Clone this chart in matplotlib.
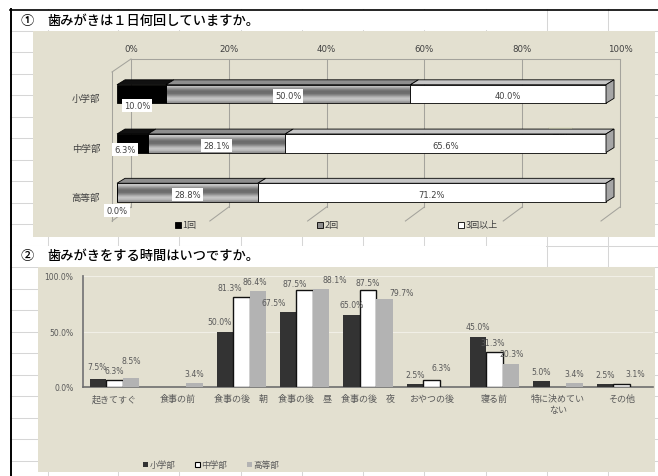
import numpy as np
import matplotlib

matplotlib.use("Agg")
import matplotlib.pyplot as plt
from matplotlib.patches import Polygon, Rectangle

plt.rcParams["font.family"] = ["Noto Sans CJK JP", "DejaVu Sans"]

# --- chart 1: brushing count per day (100% stacked) ---
grades = ["小学部", "中学部", "高等部"]
freq_names = ["1回", "2回", "3回以上"]
freq_once = [10.0, 6.3, 0.0]
freq_twice = [50.0, 28.1, 28.8]
freq_three = [40.0, 65.6, 71.2]
pct_ticks = [0, 20, 40, 60, 80, 100]

# --- chart 2: when do you brush ---
times = ["起きてすぐ", "食事の前", "食事の後　朝", "食事の後　昼", "食事の後　夜",
         "おやつの後", "寝る前", "特に決めてい\nない", "その他"]
elem = [7.5, 0.0, 50.0, 67.5, 65.0, 2.5, 45.0, 5.0, 2.5]
junior = [6.3, 0.0, 81.3, 87.5, 87.5, 6.3, 31.3, 0.0, 3.1]
senior = [8.5, 3.4, 86.4, 88.1, 79.7, 0.0, 20.3, 3.4, 0.0]
y2_ticks = [0, 50, 100]

W, H = 658, 477
BEIGE = "#e3e0d0"
GRID = "#d6d6d6"
TXT = "#404040"
TXT2 = "#595959"
NUM = "DejaVu Sans"

fig = plt.figure(figsize=(W / 100, H / 100), dpi=100)
sheet = fig.add_axes([0, 0, 1, 1])
sheet.set_xlim(0, W)
sheet.set_ylim(H, 0)
sheet.axis("off")


def px_axes(left, top, right, bottom):
    return fig.add_axes([left / W, 1 - bottom / H, (right - left) / W, (bottom - top) / H])


# spreadsheet grid
for y in 10 + 21.52 * np.arange(1, 23):
    sheet.plot([10, W], [y, y], color=GRID, lw=0.75, zorder=1)
for x in [48] + list(118 + 61.25 * np.arange(10)):
    sheet.plot([x, x], [10, H], color=GRID, lw=0.75, zorder=1)
sheet.add_patch(Rectangle((11, 11.2), 535, 20, fc="white", ec="none", zorder=2))
sheet.add_patch(Rectangle((11, 247.4), 535, 20.2, fc="white", ec="none", zorder=2))
sheet.add_patch(Rectangle((33, 32), 622, 206, fc=BEIGE, ec="none", zorder=3))
sheet.add_patch(Rectangle((38, 268), 617, 205, fc=BEIGE, ec="none", zorder=3))
sheet.plot([10, W], [10.5, 10.5], color="black", lw=1.2, zorder=4)
sheet.plot([10.8, 10.8], [10, H], color="black", lw=1.4, zorder=4)

for ty, title in [(20.5, "歯みがきは１日何回していますか。"), (256, "歯みがきをする時間はいつですか。")]:
    sheet.text(47, ty, title, fontsize=9.5, fontweight="medium", va="center", zorder=5)
sheet.text(21, 20.5, "①", fontsize=9.5, fontweight="medium", va="center", zorder=5)
sheet.text(21, 256, "②", fontsize=9.5, fontweight="medium", va="center", zorder=5)

# ---------------- chart 1 ----------------
SX, SY = 4.89, 49.25          # px per percent / px per category
X0, Y0 = 117, 95              # pixel of (0 %, first bar centre)
ax1 = px_axes(60, 36, 645, 236)
ax1.axis("off")

WALL_FRONT, WALL_BACK = -1.02, 2.86
TOP_BACK, TOP_FRONT = -0.711, -0.447
BOT_BACK, BOT_FRONT = 2.294, 2.579
WALLC = "#a4a39c"
for p in pct_ticks:
    xb, xf = WALL_BACK + p, WALL_FRONT + p
    ax1.plot([xb, xb], [TOP_BACK, BOT_BACK], color=WALLC, lw=0.75, zorder=1)
    ax1.plot([xb, xf], [BOT_BACK, BOT_FRONT], color=WALLC, lw=0.75, zorder=1)
    ax1.text(xb, -0.93, f"{p}%", fontsize=6.2, color=TXT, family=NUM, ha="center", va="center")
ax1.plot([WALL_BACK, WALL_BACK + 100], [TOP_BACK, TOP_BACK], color=WALLC, lw=0.75, zorder=1)
ax1.plot([WALL_FRONT, WALL_FRONT], [TOP_FRONT, BOT_FRONT], color=WALLC, lw=0.75, zorder=1)
ax1.plot([WALL_FRONT, WALL_BACK], [TOP_FRONT, TOP_BACK], color=WALLC, lw=0.75, zorder=1)

ys = np.arange(len(grades))
h = 0.376
BAR_DX, BAR_DY = 1.64, -0.10
grad = np.array([0.80, 0.74, 0.6, 0.47, 0.42, 0.44, 0.55, 0.7, 0.78, 0.72, 0.58])[:, None]

series = [freq_once, freq_twice, freq_three]
fronts = ["black", "none", "white"]
tops = ["#111111", "#8e8e8e", "#c6c6c6"]
lefts = np.zeros(len(grades))
for k, vals in enumerate(series):
    vals = np.asarray(vals, dtype=float)
    ax1.barh(ys, vals, left=lefts, height=h, color=fronts[k], edgecolor="black",
             lw=0.6, zorder=3)
    for y, l, v in zip(ys, lefts, vals):
        if v <= 0:
            continue
        y0 = y - h / 2
        if k == 1:
            ax1.imshow(grad, cmap="gray", vmin=0, vmax=1, aspect="auto",
                       interpolation="bilinear", extent=(l, l + v, y + h / 2, y0), zorder=2.5)
        ax1.add_patch(Polygon([(l, y0), (l + BAR_DX, y0 + BAR_DY), (l + v + BAR_DX, y0 + BAR_DY),
                               (l + v, y0)], closed=True, fc=tops[k], ec="black", lw=0.6, zorder=3))
    lefts = lefts + vals

for y, t in zip(ys, lefts):
    y0 = y - h / 2
    ax1.add_patch(Polygon([(t, y0), (t + BAR_DX, y0 + BAR_DY), (t + BAR_DX, y0 + h + BAR_DY),
                           (t, y0 + h)], closed=True, fc="#a6a6a6", ec="black", lw=0.6, zorder=3))

ax1.set_xlim((60 - X0) / SX, (645 - X0) / SX)
ax1.set_ylim((236 - Y0) / SY, (36 - Y0) / SY)

box = dict(boxstyle="square,pad=0.25", fc="white", ec="none")
first_label_xy = [(4.1, 0.23), (1.6, 0.12), (0.0, 0.37)]
for y, v, (dx, dy) in zip(ys, freq_once, first_label_xy):
    ax1.text(dx, y + dy, f"{v:.1f}%", fontsize=6, color=TXT, family=NUM,
             ha="center", va="center", bbox=box, zorder=6)
starts = np.asarray(freq_once)
for vals in [freq_twice, freq_three]:
    for y, l, v in zip(ys, starts, vals):
        ax1.text(l + v / 2, y + 0.04, f"{v:.1f}%", fontsize=6, color=TXT, family=NUM,
                 ha="center", va="center", bbox=box, zorder=6)
    starts = starts + np.asarray(vals)

for y, g in zip(ys, grades):
    ax1.text(-3.4, y + 0.1, g, fontsize=6.8, color=TXT, ha="right", va="center")

# legend of chart 1
for x, fc, name in zip([175, 317, 458], ["black", "#8e8e8e", "white"], freq_names):
    sheet.add_patch(Rectangle((x, 223), 5.5, 5.5, fc=fc, ec="black", lw=0.6, zorder=6))
    sheet.text(x + 7.5, 226, name, fontsize=6.5, color=TXT, va="center", zorder=6)

# tooltip
sheet.text(560, 135, "背壁", fontsize=7, color="#707060", ha="center", va="center", zorder=8,
           bbox=dict(boxstyle="square,pad=0.25", fc="#ffffe1", ec="#d8d8c0", lw=0.5))

# ---------------- chart 2 ----------------
ax2 = px_axes(83, 277, 653, 388)
ax2.set_facecolor("none")
x = np.arange(len(times))
bw = 0.26
colors2 = ["#333333", "white", "#b3b3b3"]
edges2 = ["none", "#111111", "none"]
data2 = [elem, junior, senior]
nudges = {(0, 0): (-1, 12), (0, 2): (-5, 9.5), (0, 3): (-15, 10), (0, 6): (0, 11),
          (1, 2): (-12, 9), (1, 3): (-10, 6), (1, 4): (0, 7), (1, 5): (10, 13),
          (1, 6): (-2, 10), (1, 8): (14, 10), (2, 0): (0, 17), (2, 2): (-3, 10),
          (2, 3): (14, 10), (2, 4): (17, 6.5), (2, 6): (0, 10.5)}
for s, vals in enumerate(data2):
    bars = ax2.bar(x + (s - 1) * bw, vals, bw, color=colors2[s], edgecolor=edges2[s],
                   lw=1.0, zorder=3)
    for i, (b, v) in enumerate(zip(bars, vals)):
        if v <= 0:
            b.set_visible(False)
            continue
        dx, dy = nudges.get((s, i), (0, 10))
        ax2.annotate(f"{v:.1f}%", (b.get_x() + b.get_width() / 2, v),
                     xytext=(dx * 0.72, dy * 0.72), textcoords="offset points",
                     ha="center", va="center", fontsize=5.6, color=TXT2, family=NUM, zorder=5)

ax2.set_xlim(-0.5, len(times) - 0.5)
ax2.set_ylim(0, 100)
ax2.set_yticks(y2_ticks)
ax2.set_yticklabels([f"{t:.1f}%" for t in y2_ticks], family=NUM)
ax2.set_xticks(x)
ax2.set_xticklabels(times, linespacing=1.35)
ax2.yaxis.grid(True, color="#f1efe6", lw=0.8)
ax2.set_axisbelow(True)
ax2.tick_params(axis="y", length=0, pad=7, labelsize=5.5, labelcolor=TXT2)
ax2.tick_params(axis="x", length=0, pad=5, labelsize=6.5, labelcolor=TXT2)
for side in ["top", "right"]:
    ax2.spines[side].set_visible(False)
ax2.spines["left"].set_color("#7a7a7a")
ax2.spines["left"].set_linewidth(1.3)
ax2.spines["bottom"].set_color("#6e6e6e")
ax2.spines["bottom"].set_linewidth(1.2)

# legend of chart 2
for x0, fc, ec, name in zip([143, 195, 247], colors2, ["none", "black", "none"],
                            ["小学部", "中学部", "高等部"]):
    sheet.add_patch(Rectangle((x0, 462.5), 5, 5, fc=fc, ec=ec, lw=0.8, zorder=6))
    sheet.text(x0 + 6.5, 465, name, fontsize=6.2, color=TXT2, va="center", zorder=6)

fig.savefig("out.png", dpi=100)
